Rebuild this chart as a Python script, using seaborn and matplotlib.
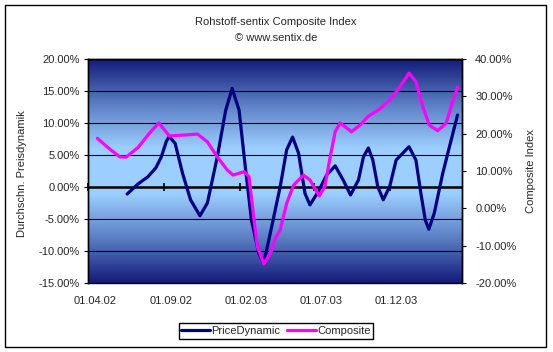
import numpy as np
import pandas as pd
import matplotlib
matplotlib.use("Agg")
import matplotlib.pyplot as plt
import matplotlib.dates as mdates
from matplotlib.colors import LinearSegmentedColormap
from matplotlib.patches import Rectangle
from matplotlib.transforms import ScaledTranslation
from matplotlib.ticker import FuncFormatter, MultipleLocator
import seaborn as sns

# ---------------- data ----------------
title = "Rohstoff-sentix Composite Index"
subtitle = "\u00a9 www.sentix.de"
left_label = "Durchschn. Preisdynamik"
right_label = "Composite Index"
series_names = ["PriceDynamic", "Composite"]

price_dates = ["2002-06-19", "2002-07-11", "2002-07-31", "2002-08-16", "2002-08-27",
               "2002-09-06", "2002-09-12", "2002-09-24", "2002-10-09", "2002-10-25",
               "2002-11-13", "2002-11-28", "2002-12-18", "2003-01-04", "2003-01-17",
               "2003-01-31", "2003-02-11", "2003-02-25", "2003-03-12", "2003-03-22",
               "2003-04-04", "2003-04-24", "2003-05-07", "2003-05-19", "2003-05-31",
               "2003-06-13", "2003-06-23", "2003-07-10", "2003-07-27", "2003-08-13",
               "2003-08-29", "2003-09-13", "2003-09-29", "2003-10-09", "2003-10-19",
               "2003-10-28", "2003-11-07", "2003-11-18", "2003-12-01", "2003-12-14",
               "2004-01-09", "2004-01-23", "2004-02-02", "2004-02-11", "2004-02-18",
               "2004-02-29", "2004-03-17", "2004-04-03", "2004-04-16"]
price_values = [-1.1, 0.47, 1.6, 3.0, 4.7, 7.1, 7.9, 6.8, 2.1, -2.0,
                -4.5, -2.5, 4.7, 12.0, 15.4, 12.0, 4.2, -5.2, -10.4, -11.9,
                -7.2, 0.05, 5.8, 7.8, 5.3, -1.0, -2.8, -0.7, 1.9, 3.3,
                1.1, -1.25, 1.1, 4.7, 6.1, 4.2, 0.05, -2.0, 0.05, 4.2,
                6.3, 4.2, -1.0, -5.2, -6.6, -4.1, 2.1, 7.3, 11.25]

comp_dates = ["2002-04-20", "2002-05-11", "2002-06-04", "2002-06-17", "2002-07-11",
              "2002-08-03", "2002-08-22", "2002-09-12", "2002-10-09", "2002-11-08",
              "2002-11-28", "2002-12-18", "2003-01-07", "2003-01-19", "2003-02-10",
              "2003-02-20", "2003-02-27", "2003-03-09", "2003-03-22", "2003-04-04",
              "2003-04-14", "2003-04-24", "2003-05-07", "2003-05-21", "2003-06-10",
              "2003-06-23", "2003-07-12", "2003-07-23", "2003-08-03", "2003-08-13",
              "2003-08-23", "2003-09-15", "2003-10-02", "2003-10-19", "2003-11-10",
              "2003-12-01", "2003-12-21", "2004-01-09", "2004-01-23", "2004-02-06",
              "2004-02-19", "2004-03-07", "2004-03-24", "2004-04-05", "2004-04-16"]
comp_values = [18.75, 16.3, 13.8, 13.7, 16.3, 20.1, 22.9, 19.4, 19.6, 19.9,
               17.8, 13.8, 10.3, 8.9, 9.8, 8.5, 0.4, -10.3, -14.9, -12.1,
               -8.0, -5.8, 1.3, 6.2, 8.9, 7.6, 3.3, 5.8, 13.8, 20.5,
               22.9, 20.5, 22.3, 24.7, 26.5, 29.0, 32.4, 36.2, 33.9, 27.2,
               22.3, 20.8, 22.8, 28.1, 32.4]

x_tick_dates = ["2002-04-01", "2002-09-01", "2003-02-01", "2003-07-01", "2003-12-01"]
x_range = ["2002-04-01", "2004-04-25"]
left_range = [-15, 20]
right_range = [-20, 40]

# ---------------- style ----------------
sns.set_style("white")
plt.rcParams["font.family"] = ["Liberation Sans", "DejaVu Sans"]
plt.rcParams["font.size"] = 8

W, H = 553, 352
fig = plt.figure(figsize=(W / 100, H / 100), dpi=100)
fig.patch.set_facecolor("white")

L, R, T, B = 88, 462, 59, 283
pos = [L / W, 1 - B / H, (R - L) / W, (B - T) / H]

# gradient background
bg = fig.add_axes(pos, zorder=-1)
cmap = LinearSegmentedColormap.from_list("g", ["#141c7c", "#5c7fc4", "#9ccfff", "#9ccfff", "#5c7fc4", "#141c7c"])
bg.imshow(np.linspace(0, 1, 300).reshape(-1, 1), aspect="auto", cmap=cmap,
          extent=[0, 1, 0, 1], interpolation="bilinear")
bg.axis("off")

ax = fig.add_axes(pos)
ax.set_facecolor("none")
ax2 = ax.twinx()

df_p = pd.DataFrame({"date": pd.to_datetime(price_dates), "value": price_values})
df_c = pd.DataFrame({"date": pd.to_datetime(comp_dates), "value": comp_values})

sns.lineplot(data=df_p, x="date", y="value", ax=ax, color="#000080", lw=2.3,
             label=series_names[0], legend=False, zorder=4,
             solid_joinstyle="round", solid_capstyle="round")
sns.lineplot(data=df_c, x="date", y="value", ax=ax2, color="#ff00ff", lw=2.3,
             label=series_names[1], legend=False, zorder=4,
             solid_joinstyle="round", solid_capstyle="round")

ax.set_xlim(pd.to_datetime(x_range[0]), pd.to_datetime(x_range[1]))
ax.set_ylim(*left_range)
ax2.set_ylim(*right_range)

# gridlines + zero line
ax.yaxis.set_major_locator(MultipleLocator(5))
ax.grid(axis="y", color="black", lw=0.8)
ax.grid(axis="x", visible=False)
ax.set_axisbelow(True)
ax.axhline(0, color="black", lw=1.8, zorder=2)

pct = FuncFormatter(lambda v, p: f"{v:.2f}%")
ax.yaxis.set_major_formatter(pct)
ax2.yaxis.set_major_locator(MultipleLocator(10))
ax2.yaxis.set_major_formatter(pct)

ax.tick_params(axis="y", left=True, length=3, width=0.8, color="black", pad=3, labelsize=8)
ax2.tick_params(axis="y", right=True, length=3, width=0.8, color="black", pad=6.5, labelsize=8)
ax2.grid(False)

# x ticks on the zero line
tick_nums = mdates.date2num(pd.to_datetime(x_tick_dates))
ax.spines["bottom"].set_position(("data", 0))
ax.spines["bottom"].set_visible(False)
ax.set_xticks(tick_nums)
ax.tick_params(axis="x", bottom=True, direction="inout", length=6, width=1.2,
               color="black", labelbottom=False)
ax.set_xlabel("")
ax.set_ylabel("")
ax2.set_xlabel("")
ax2.set_ylabel("")

sec = ax.secondary_xaxis(0)
sec.set_xticks(tick_nums)
sec.xaxis.set_major_formatter(mdates.DateFormatter("%d.%m.%y"))
sec.tick_params(axis="x", length=0, pad=9, labelsize=8)
sec.spines["bottom"].set_color("black")
sec.spines["bottom"].set_linewidth(1.0)
offset = ScaledTranslation(7 / 100, 0, fig.dpi_scale_trans)
for lab in sec.get_xticklabels():
    lab.set_transform(lab.get_transform() + offset)

for a in (ax, ax2):
    for s in ("left", "right", "top"):
        a.spines[s].set_color("black")
        a.spines[s].set_linewidth(1.0)
ax2.spines["bottom"].set_visible(False)

# axis titles
ax.set_ylabel(left_label, fontsize=8)
ax.yaxis.set_label_coords((27 - L) / (R - L), 0.49)
ax2.set_ylabel(right_label, fontsize=8)
ax2.yaxis.set_label_coords((526 - L) / (R - L), 0.5)

# titles
fig.text(276 / W, 1 - 22 / H, title, ha="center", va="center", fontsize=8)
fig.text(276 / W, 1 - 38 / H, subtitle, ha="center", va="center", fontsize=8)

# legend
h1, l1 = ax.get_legend_handles_labels()
h2, l2 = ax2.get_legend_handles_labels()
leg = fig.legend(h1 + h2, l1 + l2, loc="center", bbox_to_anchor=(276 / W, 1 - 331 / H),
                 ncol=2, frameon=True, fancybox=False, shadow=False,
                 handlelength=2.6, handletextpad=0.1, columnspacing=0.6,
                 borderpad=0.25, borderaxespad=0, fontsize=8)
leg.get_frame().set_edgecolor("black")
leg.get_frame().set_linewidth(1.0)
leg.get_frame().set_facecolor("white")
leg.get_frame().set_alpha(1)

# outer border
fig.patches.append(Rectangle((5 / W, 1 - 347 / H), 541 / W, 342 / H, transform=fig.transFigure,
                             fill=False, edgecolor="black", lw=1.0))

fig.savefig("out.png", dpi=100)
